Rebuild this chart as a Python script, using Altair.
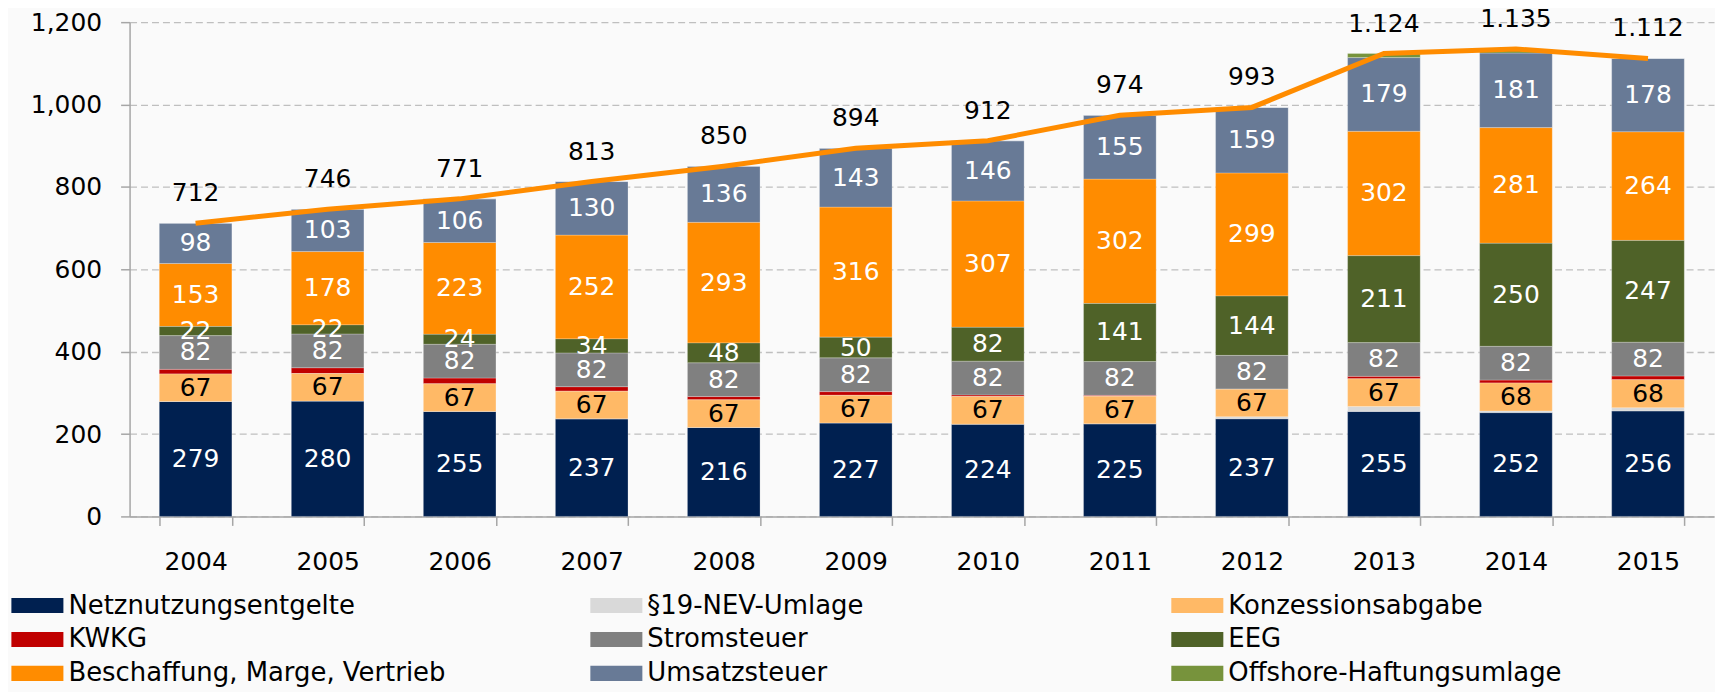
import altair as alt
import pandas as pd

years = ["2004", "2005", "2006", "2007", "2008", "2009", "2010", "2011", "2012", "2013", "2014", "2015"]

netz = [279, 280, 255, 237, 216, 227, 224, 225, 237, 255, 252, 256]
nev = [0, 0, 0, 0, 0, 0, 0, 0, 5, 12, 4, 8]
konz = [67, 67, 67, 67, 67, 67, 67, 67, 67, 67, 68, 68]
kwkg = [11, 14, 14, 11, 8, 9, 4, 2, 0, 6, 7, 9]
strom = [82, 82, 82, 82, 82, 82, 82, 82, 82, 82, 82, 82]
eeg = [22, 22, 24, 34, 48, 50, 82, 141, 144, 211, 250, 247]
besch = [153, 178, 223, 252, 293, 316, 307, 302, 299, 302, 281, 264]
ust = [98, 103, 106, 130, 136, 143, 146, 155, 159, 179, 181, 178]
offshore = [0, 0, 0, 0, 0, 0, 0, 0, 0, 10, 10, 0]

totals = [712, 746, 771, 813, 850, 894, 912, 974, 993, 1124, 1135, 1112]
total_labels = ["712", "746", "771", "813", "850", "894", "912", "974", "993", "1.124", "1.135", "1.112"]

series_names = [
    "Netznutzungsentgelte", "§19-NEV-Umlage", "Konzessionsabgabe",
    "KWKG", "Stromsteuer", "EEG",
    "Beschaffung, Marge, Vertrieb", "Umsatzsteuer", "Offshore-Haftungsumlage",
]
series_values = [netz, nev, konz, kwkg, strom, eeg, besch, ust, offshore]
series_colors = [
    "#002050", "#D9D9D9", "#FFB966",
    "#C00000", "#808080", "#4F6228",
    "#FF8C00", "#687A96", "#77933C",
]
labeled_series = [
    "Netznutzungsentgelte", "Konzessionsabgabe", "Stromsteuer",
    "EEG", "Beschaffung, Marge, Vertrieb", "Umsatzsteuer",
]
y_ticks = [0, 200, 400, 600, 800, 1000, 1200]

# legend columns (indices into series lists) and their horizontal offsets
legend_groups = [[0, 3, 6], [1, 4, 7], [2, 5, 8]]
legend_x = [-107, 474, 1057]
legend_y = 571

rows = []
for i, (name, vals) in enumerate(zip(series_names, series_values)):
    for yr, v in zip(years, vals):
        rows.append({"year": yr, "series": name, "value": v, "order": i})
df = pd.DataFrame(rows)
tot_df = pd.DataFrame({"year": years, "total": totals, "label": total_labels})

BASE_FONT = "DejaVu Sans"

x_enc = alt.X(
    "year:N", sort=years, title=None,
    scale=alt.Scale(paddingInner=0.45, paddingOuter=0.225),
    axis=alt.Axis(labelAngle=0, tickBand="extent", tickSize=9, labelPadding=24, grid=False),
)
y_scale = alt.Scale(domain=[0, 1200], nice=False)


def stacked(chart):
    return chart.transform_stack(
        stack="value", groupby=["year"], as_=["y0", "y1"],
        sort=[alt.SortField("order", order="ascending")],
    )


bar_layers = []
for grp, lx in zip(legend_groups, legend_x):
    names = [series_names[i] for i in grp]
    cols = [series_colors[i] for i in grp]
    layer = stacked(alt.Chart(df)).transform_filter(
        alt.FieldOneOfPredicate(field="series", oneOf=names)
    ).mark_bar(stroke="#FFFFFF", strokeWidth=0.5, strokeOpacity=0.5).encode(
        x=x_enc,
        y=alt.Y("y0:Q", title=None, scale=y_scale,
                axis=alt.Axis(values=y_ticks, format=",d", tickSize=9, labelPadding=19,
                              grid=True, gridDash=[7, 4], gridColor="#BFBFBF", gridWidth=1.3)),
        y2="y1:Q",
        color=alt.Color(
            "series:N",
            scale=alt.Scale(domain=names, range=cols),
            legend=alt.Legend(
                title=None, orient="none", legendX=lx, legendY=legend_y,
                direction="vertical",
                symbolType="M-1.8,-0.52H1.8V0.52H-1.8Z", symbolSize=841,
                symbolStrokeWidth=0, symbolOpacity=1,
                labelFont=BASE_FONT, labelFontSize=26, labelColor="black",
                labelOffset=16.6, rowPadding=6, padding=0, labelLimit=600,
            ),
        ),
    )
    bar_layers.append(layer)

seg_text = stacked(alt.Chart(df)).transform_filter(
    alt.FieldOneOfPredicate(field="series", oneOf=labeled_series)
).transform_filter("datum.value > 0").transform_calculate(
    mid="(datum.y0 + datum.y1) / 2"
).mark_text(font=BASE_FONT, fontSize=25, baseline="middle", align="center").encode(
    x=x_enc,
    y=alt.Y("mid:Q", title=None, scale=y_scale),
    text=alt.Text("value:Q"),
    color=alt.condition(alt.datum.series == "Konzessionsabgabe", alt.value("black"), alt.value("white")),
)

line = alt.Chart(tot_df).mark_line(color="#FF8C00", strokeWidth=5).encode(
    x=x_enc,
    y=alt.Y("total:Q", title=None, scale=y_scale),
)

tot_text = alt.Chart(tot_df).mark_text(
    font=BASE_FONT, fontSize=25, baseline="middle", align="center", dy=-30, color="black"
).encode(
    x=x_enc,
    y=alt.Y("total:Q", title=None, scale=y_scale),
    text=alt.Text("label:N"),
)

chart = alt.layer(*bar_layers, seg_text, line, tot_text).resolve_scale(
    color="independent"
).properties(
    width=1590, height=496,
    autosize=alt.AutoSizeParams(type="none"),
    padding={"left": 122, "top": 13, "right": 1, "bottom": 175},
    background="#FAFAFA",
).configure_view(stroke=None).configure_axis(
    labelFont=BASE_FONT, labelFontSize=25, labelColor="black",
    domainColor="#A6A6A6", tickColor="#A6A6A6", domainWidth=1.5, tickWidth=1.5,
)

chart.save("out.html", embed_options={"renderer": "svg", "actions": False})
